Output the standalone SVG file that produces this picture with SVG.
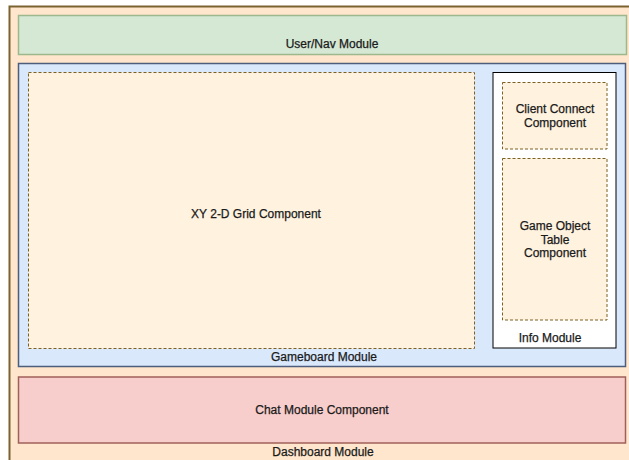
<svg xmlns="http://www.w3.org/2000/svg" width="629" height="460" viewBox="0 0 629 460">
  <style>
    text { font-family: "Liberation Sans", Arial, sans-serif; font-size: 12px; fill: #1a1a1a; stroke: #1a1a1a; stroke-width: 0.25; text-anchor: middle; }
    .comp { fill: #fff2df; stroke: #7d6020; stroke-width: 1; stroke-dasharray: 3 2; }
  </style>
  <rect width="629" height="460" fill="#ffffff"/>

  <g id="dashboard-module">
    <rect x="9.5" y="6.5" width="640" height="470" fill="#ffe6cc" stroke="#7a6232" stroke-width="2"/>
    <text x="323" y="456">Dashboard Module</text>
  </g>

  <g id="user-nav-module">
    <rect x="18.5" y="15.5" width="608" height="39" fill="#d5e8d4" stroke="#9cb88c" stroke-width="1.5"/>
    <text x="332" y="48">User/Nav Module</text>
  </g>

  <g id="gameboard-module">
    <rect x="18.5" y="63.5" width="607" height="303" fill="#dae8fc" stroke="#4d5e7c" stroke-width="1.5"/>
    <text x="324" y="361">Gameboard Module</text>
  </g>

  <g id="grid-component">
    <rect class="comp" x="28.5" y="72.5" width="446" height="276"/>
    <text x="256" y="218">XY 2-D Grid Component</text>
  </g>

  <g id="info-module">
    <rect x="493" y="72.5" width="123" height="275.5" fill="#ffffff" stroke="#000000" stroke-width="1"/>
    <text x="550" y="342">Info Module</text>
  </g>

  <g id="client-connect-component">
    <rect class="comp" x="502.5" y="82.5" width="104.5" height="66.5"/>
    <text x="555" y="113">Client Connect</text>
    <text x="555" y="127">Component</text>
  </g>

  <g id="game-object-table-component">
    <rect class="comp" x="502.5" y="158.5" width="104.5" height="161.5"/>
    <text x="555" y="230">Game Object</text>
    <text x="555" y="244">Table</text>
    <text x="555" y="257">Component</text>
  </g>

  <g id="chat-module">
    <rect x="18.5" y="377" width="607" height="66" fill="#f8cecc" stroke="#a0605a" stroke-width="1.5"/>
    <text x="322" y="414">Chat Module Component</text>
  </g>

  <g id="connectors"></g>
</svg>
